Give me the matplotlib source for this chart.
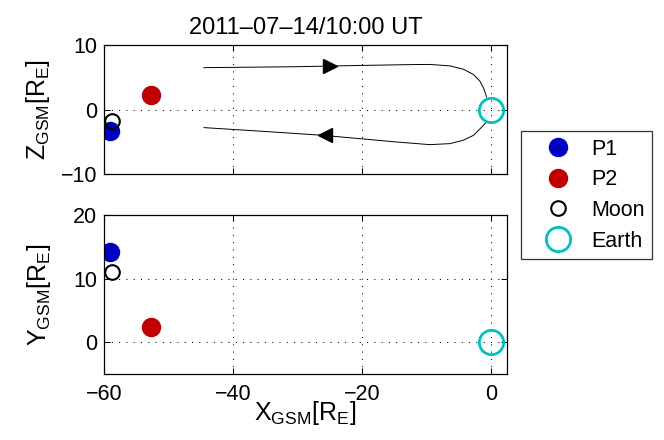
import matplotlib
matplotlib.use("Agg")
import matplotlib.pyplot as plt

plt.rcParams['font.family'] = ['Liberation Sans', 'DejaVu Sans']
plt.rcParams['mathtext.fontset'] = 'custom'
plt.rcParams['mathtext.rm'] = 'Liberation Sans'
plt.rcParams['mathtext.it'] = 'Liberation Sans'

title = "2011\u201307\u201314/10:00 UT"

# Object positions (X, Y, Z GSM in R_E)
names = ["P1", "P2", "Moon", "Earth"]
pos_x = [-59.1, -52.7, -58.8, 0.0]
pos_y = [14.2, 2.4, 11.0, 0.0]
pos_z = [-3.4, 2.2, -1.8, 0.0]

# Field line (X-Z plane)
upper_x = [-44.5, -30, -20, -12, -9.5, -6.4, -4.3, -2.7, -1.7, -1.1, -0.67]
upper_z = [6.5, 6.65, 6.85, 6.98, 7.0, 6.78, 6.27, 5.44, 4.4, 3.22, 1.96]
lower_x = [-44.5, -35, -26, -15, -9.5, -6.4, -4.3, -2.7, -1.4, -0.67]
lower_z = [-2.8, -3.4, -4.0, -5.0, -5.44, -5.29, -4.77, -4.0, -2.7, -1.93]
arrow_up_xz = (-25.0, 6.73)
arrow_lo_xz = (-25.7, -4.0)

FS = 15.5

styles = {
    "P1": dict(marker='o', ls='none', ms=13, mfc='#0000c0', mec='#0000c0'),
    "P2": dict(marker='o', ls='none', ms=13, mfc='#c00000', mec='#c00000'),
    "Moon": dict(marker='o', ls='none', ms=10.5, mfc='none', mec='black', mew=1.5),
    "Earth": dict(marker='o', ls='none', ms=17.5, mfc='none', mec='#00c0c0', mew=2),
}

fig = plt.figure(figsize=(6.64, 4.4), dpi=100)
ax1 = fig.add_axes([0.1566, 0.6045, 0.607, 0.293])
ax2 = fig.add_axes([0.1566, 0.15, 0.607, 0.361])

for ax in (ax1, ax2):
    ax.set_xlim(-60, 2.5)
    ax.set_xticks([-60, -40, -20, 0])
    ax.grid(True, ls=(0, (1, 6)), color='black', lw=0.75)
    ax.tick_params(direction='in', top=True, right=True, length=4, width=0.75,
                   labelsize=FS)
    ax.tick_params(axis='x', pad=7)
    ax.tick_params(axis='y', pad=5)
    for s in ax.spines.values():
        s.set_linewidth(0.9)

# Top panel
ax1.plot(upper_x, upper_z, color='black', lw=0.7)
ax1.plot(lower_x, lower_z, color='black', lw=0.7)
ax1.plot([arrow_up_xz[0]], [arrow_up_xz[1]], marker='>', color='black', ms=10.5, ls='none')
ax1.plot([arrow_lo_xz[0]], [arrow_lo_xz[1]], marker='<', color='black', ms=10.5, ls='none')
for n, x, z in zip(names, pos_x, pos_z):
    ax1.plot([x], [z], label=n, **styles[n])
ax1.set_ylim(-10, 10)
ax1.set_yticks([-10, 0, 10])
ax1.set_yticklabels(['\u221210', '0', '10'])
ax1.set_xticklabels([])
ax1.set_ylabel(r'Z$_{\mathrm{GSM}}$[R$_{\mathrm{E}}$]', fontsize=18, labelpad=6)
ax1.set_title(title, fontsize=17, pad=8)

# Bottom panel
for n, x, y in zip(names, pos_x, pos_y):
    ax2.plot([x], [y], **styles[n])
ax2.set_ylim(-5, 20)
ax2.set_yticks([0, 10, 20])
ax2.set_xticklabels(['\u221260', '\u221240', '\u221220', '0'])
ax2.set_ylabel(r'Y$_{\mathrm{GSM}}$[R$_{\mathrm{E}}$]', fontsize=18, labelpad=14)
ax2.set_xlabel(r'X$_{\mathrm{GSM}}$[R$_{\mathrm{E}}$]', fontsize=18, labelpad=-4)

h, l = ax1.get_legend_handles_labels()
leg = fig.legend(h, l, loc='upper left', bbox_to_anchor=(521 / 664, 1 - 131 / 440),
                 borderaxespad=0, fontsize=FS, frameon=True, fancybox=False,
                 edgecolor='black', labelspacing=0.45, borderpad=0.35,
                 handletextpad=0.2, handlelength=2.7, numpoints=1)
leg.get_frame().set_linewidth(0.9)

fig.savefig('out.png', dpi=100)
